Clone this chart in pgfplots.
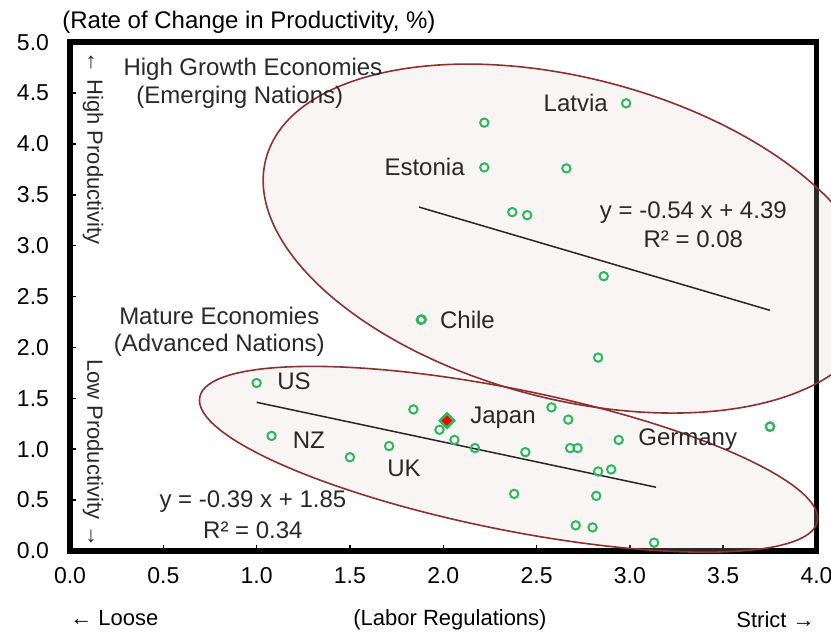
\documentclass[border=0pt]{standalone}
\usepackage{fontspec}
\setmainfont{Liberation Sans}
\usepackage{pgfplots}
\pgfplotsset{compat=1.18}
\definecolor{ptgreen}{RGB}{46,184,92}
\definecolor{ellred}{RGB}{140,48,48}
\definecolor{ellfill}{RGB}{224,205,205}
\definecolor{txt}{RGB}{40,40,40}
\newcommand{\lbl}{\fontsize{12bp}{14bp}\selectfont}
\newcommand{\tck}{\fontsize{11.5bp}{13bp}\selectfont}
\begin{document}
\begin{tikzpicture}
\begin{axis}[
  scale only axis, width=373.25bp, height=254.25bp,
  at={(0,0)}, anchor=south west,
  xmin=0, xmax=4, ymin=0, ymax=5,
  xtick={0,0.5,1,1.5,2,2.5,3,3.5,4},
  ytick={0,0.5,1,1.5,2,2.5,3,3.5,4,4.5,5},
  tick align=inside, xtick pos=bottom, ytick pos=left,
  major tick length=3bp,
  axis line style={line width=2.8bp, black},
  tick style={line width=0.7bp, black},
  clip=false,
  /pgf/number format/.cd, fixed, fixed zerofill, precision=1, assume math mode=true,
  /pgfplots/.cd,
  ticklabel style={font=\tck, text=black},
  xticklabel style={yshift=-5bp},
  yticklabel style={xshift=-7bp},
]
% ellipse fills
\fill[ellfill, fill opacity=0.2, rotate around={-14.65:(axis cs:2.68,3.07)}] (axis cs:2.68,3.07) ellipse [x radius=157.25bp, y radius=80.25bp];
\fill[ellfill, fill opacity=0.2, rotate around={-11.39:(axis cs:2.35,0.90)}] (axis cs:2.35,0.90) ellipse [x radius=157.5bp, y radius=35.2bp];
% ellipse outlines
\draw[ellred, line width=0.8bp, rotate around={-14.65:(axis cs:2.68,3.07)}] (axis cs:2.68,3.07) ellipse [x radius=157.25bp, y radius=80.25bp];
\draw[ellred, line width=0.8bp, rotate around={-11.39:(axis cs:2.35,0.90)}] (axis cs:2.35,0.90) ellipse [x radius=157.5bp, y radius=35.2bp];

% trend lines
\addplot[black!85, line width=0.75bp] coordinates {(1.87,3.38) (3.75,2.365)};
\addplot[black!85, line width=0.75bp] coordinates {(1.00,1.46) (3.14,0.625)};

% emerging
\addplot[only marks, mark=o, mark size=2.1bp, ptgreen, mark options={line width=1bp}] table {
x y
2.98 4.40
2.22 4.21
2.22 3.77
2.66 3.76
2.37 3.33
2.45 3.30
2.86 2.70
1.88 2.27
1.885 2.275
2.83 1.90
3.75 1.22
3.752 1.222
};
% advanced
\addplot[only marks, mark=o, mark size=2.1bp, ptgreen, mark options={line width=1bp}] table {
x y
1.00 1.65
1.08 1.13
1.50 0.92
1.71 1.03
1.84 1.39
1.98 1.19
2.06 1.09
2.17 1.01
2.44 0.97
2.38 0.56
2.58 1.41
2.67 1.29
2.68 1.01
2.72 1.01
2.94 1.09
2.83 0.78
2.90 0.80
2.82 0.54
2.71 0.25
2.80 0.23
3.13 0.08
};
% Japan
\addplot[only marks, mark=square*, mark size=2.55bp, draw=ptgreen, fill=red, mark options={line width=1.3bp, fill=red, rotate=45}] coordinates {(2.02,1.28)};

% labels
\node[font=\lbl, text=txt] at (axis cs:0.98,4.73) {High Growth Economies};
\node[font=\lbl, text=txt] at (axis cs:0.91,4.46) {(Emerging Nations)};
\node[font=\lbl, text=txt] at (axis cs:0.80,2.31) {Mature Economies};
\node[font=\lbl, text=txt] at (axis cs:0.80,2.02) {(Advanced Nations)};
\node[font=\lbl, text=txt] at (axis cs:2.71,4.40) {Latvia};
\node[font=\lbl, text=txt] at (axis cs:1.90,3.77) {Estonia};
\node[font=\lbl, text=txt] at (axis cs:2.13,2.27) {Chile};
\node[font=\lbl, text=txt] at (axis cs:1.20,1.67) {US};
\node[font=\lbl, text=txt] at (axis cs:1.28,1.09) {NZ};
\node[font=\lbl, text=txt] at (axis cs:1.79,0.81) {UK};
\node[font=\lbl, text=txt] at (axis cs:2.32,1.31) {Japan};
\node[font=\lbl, text=txt] at (axis cs:3.31,1.09) {Germany};
\node[font=\lbl, text=txt] at (axis cs:3.34,3.33) {y = -0.54 x + 4.39};
\node[font=\lbl, text=txt] at (axis cs:3.34,3.06) {R² = 0.08};
\node[font=\lbl, text=txt] at (axis cs:0.98,0.48) {y = -0.39 x + 1.85};
\node[font=\lbl, text=txt] at (axis cs:0.98,0.205) {R² = 0.34};
\node[font=\fontsize{11bp}{13bp}\selectfont, text=txt, rotate=-90] at (axis cs:0.123,3.96) {← High Productivity};
\node[font=\fontsize{11bp}{13bp}\selectfont, text=txt, rotate=-90] at (axis cs:0.123,0.96) {Low Productivity →};
\end{axis}
\node[font=\lbl, anchor=west, inner sep=0pt] at (-4bp,264.4bp) {(Rate of Change in Productivity, \%)};
\node[font=\fontsize{11bp}{13bp}\selectfont, anchor=west, inner sep=0pt] at (0bp,-33.6bp) {← Loose};
\node[font=\fontsize{11bp}{13bp}\selectfont, inner sep=0pt] at (190bp,-34.3bp) {(Labor Regulations)};
\node[font=\fontsize{11bp}{13bp}\selectfont, anchor=east, inner sep=0pt] at (372.5bp,-34.3bp) {Strict →};
\pgfresetboundingbox
\useasboundingbox (-35bp,-40.6bp) rectangle (380.5bp,275.4bp);
\end{tikzpicture}
\end{document}
